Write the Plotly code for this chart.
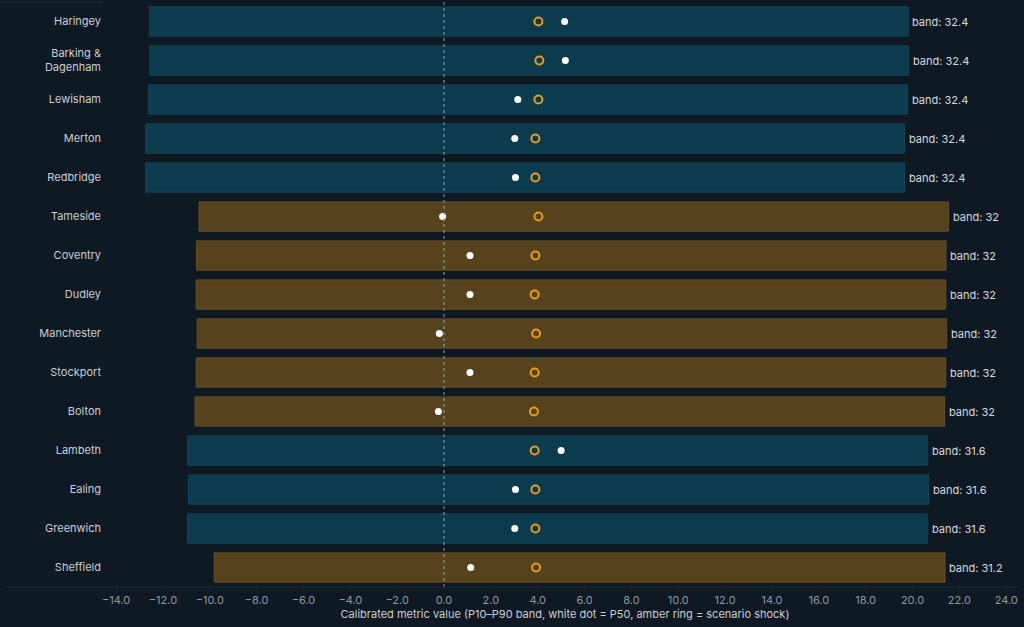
import plotly.graph_objects as go

# rows top to bottom
areas = ["Haringey", "Barking &<br>Dagenham", "Lewisham", "Merton", "Redbridge",
         "Tameside", "Coventry", "Dudley", "Manchester", "Stockport", "Bolton",
         "Lambeth", "Ealing", "Greenwich", "Sheffield"]
region = ["London", "London", "London", "London", "London",
          "Other", "Other", "Other", "Other", "Other", "Other",
          "London", "London", "London", "Other"]
p10 = [-12.58, -12.56, -12.61, -12.74, -12.74,
       -10.46, -10.57, -10.58, -10.54, -10.58, -10.63,
       -10.95, -10.91, -10.95, -9.81]
band = [32.4, 32.4, 32.4, 32.4, 32.4,
        32.0, 32.0, 32.0, 32.0, 32.0, 32.0,
        31.6, 31.6, 31.6, 31.2]
p50 = [5.15, 5.18, 3.15, 3.02, 3.05,
       -0.06, 1.11, 1.11, -0.2, 1.11, -0.24,
       5.0, 3.05, 3.02, 1.14]
shock = [4.03, 4.07, 4.03, 3.9, 3.9,
         4.03, 3.9, 3.87, 3.93, 3.87, 3.84,
         3.87, 3.9, 3.9, 3.93]

BG = "#0f1923"
fills = {"London": "#0c3b4e", "Other": "#56431e"}
edges = {"London": "#124659", "Other": "#64502a"}
FONT = "Inter, Lato, sans-serif"

fig = go.Figure()

fig.add_trace(go.Bar(
    y=areas, x=band, base=p10, orientation="h", width=0.75,
    marker=dict(color=[fills[r] for r in region],
                line=dict(color=[edges[r] for r in region], width=1)),
    showlegend=False, hoverinfo="skip"))

fig.add_trace(go.Scatter(
    y=areas, x=p50, mode="markers",
    marker=dict(color="#ffffff", size=7, line=dict(width=0)),
    showlegend=False))

fig.add_trace(go.Scatter(
    y=areas, x=shock, mode="markers",
    marker=dict(symbol="circle-open", color="#e89c1c", size=8, line=dict(width=2)),
    showlegend=False))

for a, lo, b in zip(areas, p10, band):
    fig.add_annotation(x=lo + b, y=a, text="band: %g" % b, showarrow=False,
                       xanchor="left", xshift=2,
                       font=dict(family=FONT, size=11, color="#d5d9dd"))

# zero reference line
fig.add_shape(type="line", x0=0, x1=0, xref="x", y0=0, y1=1, yref="paper",
              line=dict(color="#8fa4b2", width=1, dash="dot"))
# bottom axis rule and faint top rule
fig.add_shape(type="line", x0=-0.116, x1=1.0, xref="paper", y0=0, y1=0, yref="paper",
              line=dict(color="#1f2b36", width=1))
fig.add_shape(type="line", x0=-0.121, x1=-0.008, xref="paper", y0=1, y1=1, yref="paper",
              line=dict(color="#1f2b36", width=1))

fig.update_layout(
    width=1024, height=627,
    paper_bgcolor=BG, plot_bgcolor=BG,
    margin=dict(l=110, r=4, t=2, b=40),
    font=dict(family=FONT, size=11, color="#c9ced4"),
    bargap=0.25,
)
fig.update_xaxes(
    range=[-14.26, 24.59], dtick=2, tick0=0, tickformat=".1f",
    showgrid=False, zeroline=False, showline=False,
    ticks="outside", ticklen=3, tickcolor="#1f2b36",
    tickfont=dict(family=FONT, size=11, color="#8d97a2"),
    title=dict(text="Calibrated metric value (P10–P90 band, white dot = P50, amber ring = scenario shock)",
               font=dict(family=FONT, size=11, color="#c9ced4"), standoff=4),
)
fig.update_yaxes(
    type="category", categoryorder="array", categoryarray=areas,
    range=[14.5, -0.5], showgrid=False, zeroline=False, showline=False,
    ticks="", ticklabelstandoff=8,
    tickfont=dict(family=FONT, size=11, color="#c9ced4"),
)

fig.write_html("out.html", config={"displayModeBar": False},
               post_script="document.body.style.margin='0';document.body.style.background='%s';" % BG)
